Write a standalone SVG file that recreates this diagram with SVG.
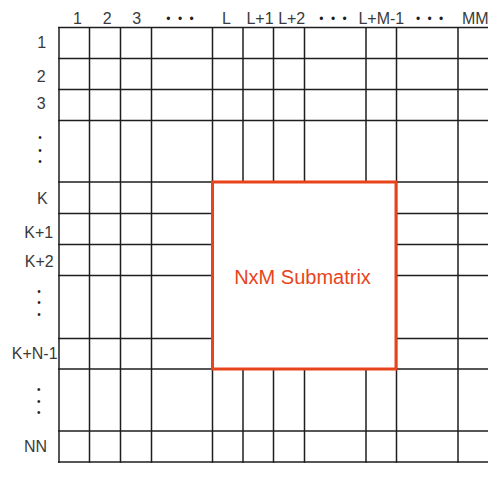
<svg xmlns="http://www.w3.org/2000/svg" width="488" height="481" viewBox="0 0 488 481">
<style>
.g line{stroke:#1e1e1e;stroke-width:1.5}
.lbl{font-family:"Liberation Sans",Arial,sans-serif;font-size:16px;fill:#3a3a3a;text-anchor:middle}
.dot{font-family:"Liberation Sans",Arial,sans-serif;font-size:12px;fill:#1e1e1e;text-anchor:middle}
.vd{font-family:"Liberation Sans",Arial,sans-serif;font-size:10px;fill:#1e1e1e;text-anchor:middle}
.sub{font-family:"Liberation Sans",Arial,sans-serif;font-size:20px;fill:#E8441C;text-anchor:middle}
</style>
<rect width="488" height="481" fill="#fff"/>
<g id="grid" class="g">
<line x1="58" y1="27.5" x2="488" y2="27.5"/>
<line x1="58" y1="58.5" x2="488" y2="58.5"/>
<line x1="58" y1="89.5" x2="488" y2="89.5"/>
<line x1="58" y1="120.5" x2="488" y2="120.5"/>
<line x1="58" y1="182" x2="488" y2="182"/>
<line x1="58" y1="213.5" x2="488" y2="213.5"/>
<line x1="58" y1="244.5" x2="488" y2="244.5"/>
<line x1="58" y1="275.5" x2="488" y2="275.5"/>
<line x1="58" y1="338.5" x2="488" y2="338.5"/>
<line x1="58" y1="369" x2="488" y2="369"/>
<line x1="58" y1="431" x2="488" y2="431"/>
<line x1="58" y1="462" x2="488" y2="462"/>
<line x1="59" y1="27" x2="59" y2="462.7"/>
<line x1="89.5" y1="27" x2="89.5" y2="462.7"/>
<line x1="120.5" y1="27" x2="120.5" y2="462.7"/>
<line x1="151.5" y1="27" x2="151.5" y2="462.7"/>
<line x1="212.5" y1="27" x2="212.5" y2="462.7"/>
<line x1="243" y1="27" x2="243" y2="462.7"/>
<line x1="273.5" y1="27" x2="273.5" y2="462.7"/>
<line x1="304.5" y1="27" x2="304.5" y2="462.7"/>
<line x1="366" y1="27" x2="366" y2="462.7"/>
<line x1="396.5" y1="27" x2="396.5" y2="462.7"/>
<line x1="458" y1="27" x2="458" y2="462.7"/>
</g>
<g id="col-labels">
<text class="lbl" x="77.5" y="23.5">1</text>
<text class="lbl" x="107.3" y="23.5">2</text>
<text class="lbl" x="136.7" y="23.5">3</text>
<text class="dot" x="181" y="22.5" letter-spacing="2">• • •</text>
<text class="lbl" x="226.4" y="23.5">L</text>
<text class="lbl" x="260" y="23.5">L+1</text>
<text class="lbl" x="291.7" y="23.5">L+2</text>
<text class="dot" x="334" y="22.5" letter-spacing="2">• • •</text>
<text class="lbl" x="381.3" y="23.5">L+M-1</text>
<text class="dot" x="430.7" y="22.5" letter-spacing="2">• • •</text>
<text class="lbl" x="475.3" y="23.5">MM</text>
</g>
<g id="row-labels">
<text class="lbl" x="41.8" y="47.7">1</text>
<text class="lbl" x="41.3" y="81.7">2</text>
<text class="lbl" x="41.3" y="109.3">3</text>
<text class="vd" x="40" y="141">•</text>
<text class="vd" x="40" y="153.7">•</text>
<text class="vd" x="40" y="165.4">•</text>
<text class="lbl" x="42.3" y="204">K</text>
<text class="lbl" x="38.7" y="238">K+1</text>
<text class="lbl" x="39.2" y="266.7">K+2</text>
<text class="vd" x="39" y="295.4">•</text>
<text class="vd" x="39" y="306.4">•</text>
<text class="vd" x="39" y="317.7">•</text>
<text class="lbl" x="34.7" y="359">K+N-1</text>
<text class="vd" x="38.7" y="392.7">•</text>
<text class="vd" x="38.7" y="404.7">•</text>
<text class="vd" x="38.7" y="416">•</text>
<text class="lbl" x="35.5" y="452">NN</text>
</g>
<g id="submatrix">
<rect x="212.5" y="182" width="183.5" height="187" fill="#fff" stroke="#E8441C" stroke-width="3"/>
<text class="sub" x="302.5" y="284.3">NxM Submatrix</text>
</g>
</svg>
